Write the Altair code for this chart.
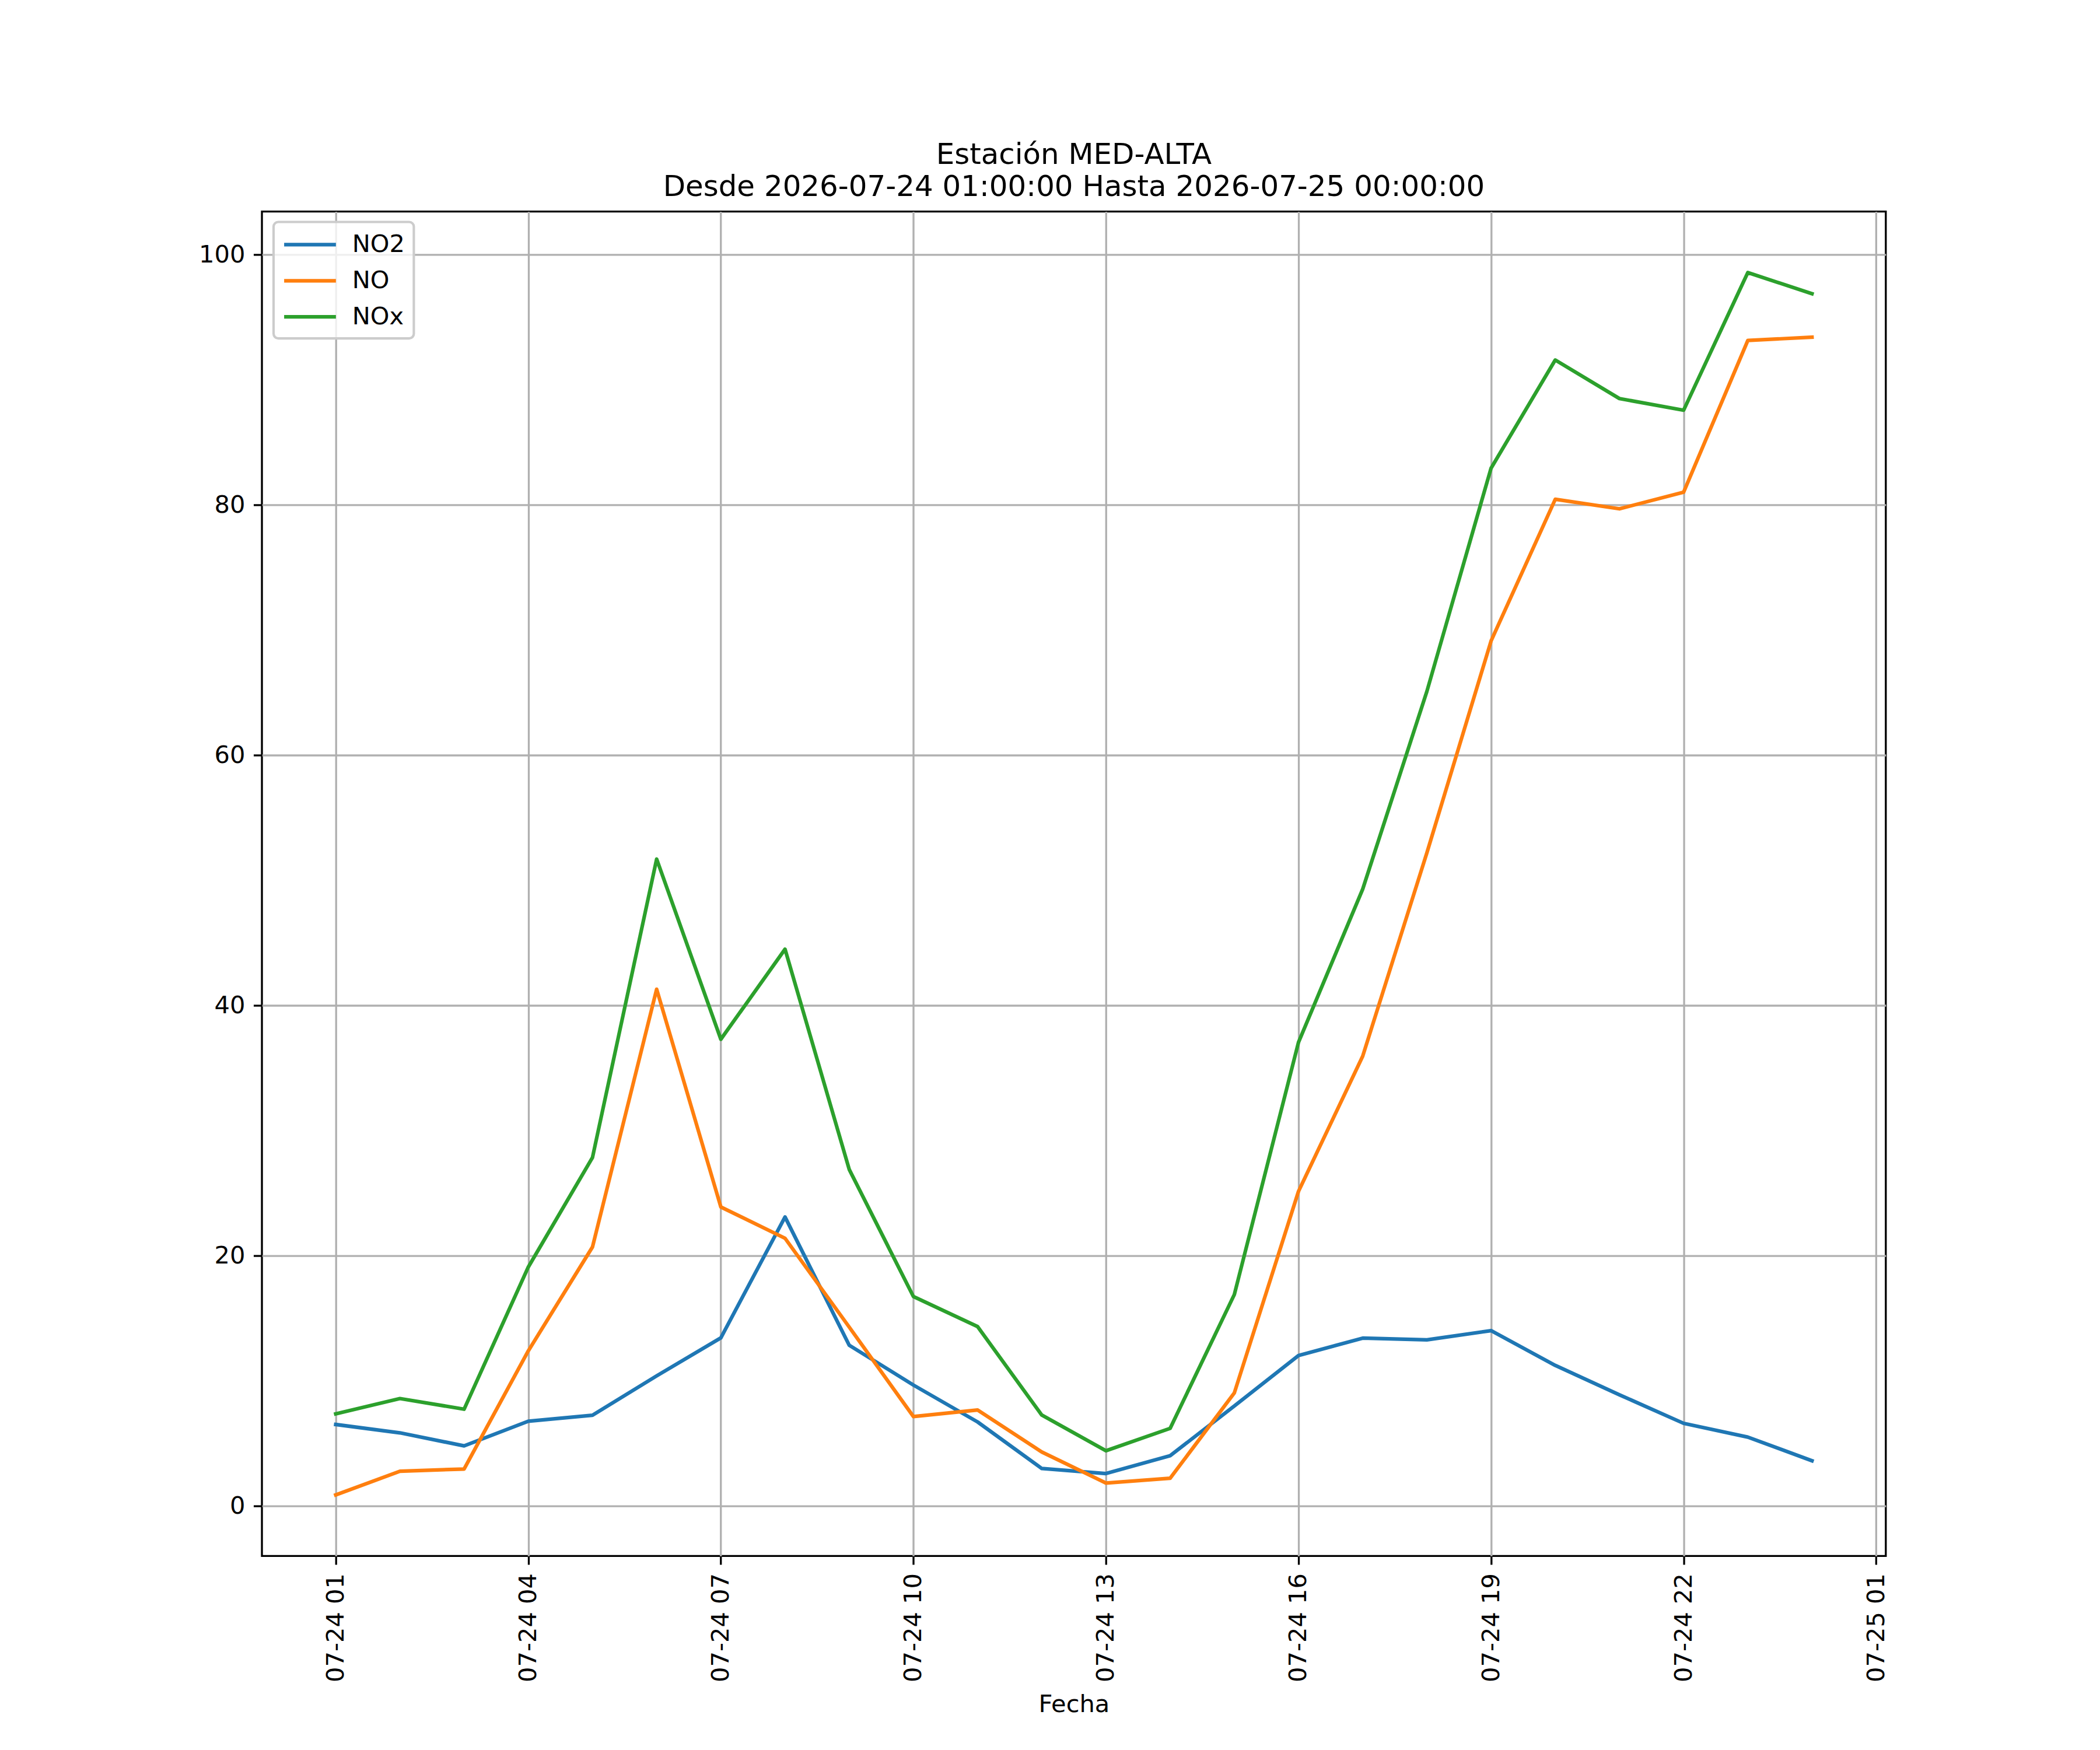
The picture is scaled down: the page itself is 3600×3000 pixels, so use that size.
import altair as alt
import pandas as pd

times = [
    "2026-07-24T01:00:00", "2026-07-24T02:00:00", "2026-07-24T03:00:00", "2026-07-24T04:00:00",
    "2026-07-24T05:00:00", "2026-07-24T06:00:00", "2026-07-24T07:00:00", "2026-07-24T08:00:00",
    "2026-07-24T09:00:00", "2026-07-24T10:00:00", "2026-07-24T11:00:00", "2026-07-24T12:00:00",
    "2026-07-24T13:00:00", "2026-07-24T14:00:00", "2026-07-24T15:00:00", "2026-07-24T16:00:00",
    "2026-07-24T17:00:00", "2026-07-24T18:00:00", "2026-07-24T19:00:00", "2026-07-24T20:00:00",
    "2026-07-24T21:00:00", "2026-07-24T22:00:00", "2026-07-24T23:00:00", "2026-07-25T00:00:00",
]

no2 = [6.52, 5.85, 4.81, 6.78, 7.26, 10.4, 13.44, 23.1, 12.85, 9.67, 6.72, 3.0,
       2.6, 4.02, 8.0, 12.03, 13.42, 13.28, 14.02, 11.24, 8.89, 6.61, 5.51, 3.62]
no = [0.89, 2.78, 2.96, 12.4, 20.7, 41.3, 23.9, 21.4, 14.3, 7.15, 7.68, 4.32,
      1.84, 2.22, 9.04, 25.15, 35.95, 52.2, 69.13, 80.45, 79.69, 81.02, 93.14, 93.41]
nox = [7.37, 8.59, 7.74, 19.1, 27.85, 51.7, 37.3, 44.5, 26.9, 16.74, 14.34, 7.27,
       4.42, 6.21, 16.9, 37.06, 49.3, 65.1, 82.94, 91.58, 88.5, 87.57, 98.57, 96.88]

series_names = ["NO2", "NO", "NOx"]
series_colors = ["#1f77b4", "#ff7f0e", "#2ca02c"]

tick_hours = [(24, 1), (24, 4), (24, 7), (24, 10), (24, 13), (24, 16), (24, 19), (24, 22), (25, 1)]
y_ticks = [0, 20, 40, 60, 80, 100]

title_lines = ["Estación MED-ALTA", "Desde 2026-07-24 01:00:00 Hasta 2026-07-25 00:00:00"]

df = pd.DataFrame({
    "Fecha": times * 3,
    "valor": no2 + no + nox,
    "serie": ["NO2"] * len(no2) + ["NO"] * len(no) + ["NOx"] * len(nox),
})

FONT = "DejaVu Sans"
FS = 41.67
LW = 3.33

x_domain = [
    alt.DateTime(year=2026, month=7, date=23, hours=23, minutes=51),
    alt.DateTime(year=2026, month=7, date=25, hours=1, minutes=9),
]
x_values = [alt.DateTime(year=2026, month=7, date=d, hours=h) for d, h in tick_hours]

chart = alt.Chart(df).mark_line(strokeWidth=6.25, strokeCap="square", strokeJoin="round").encode(
    x=alt.X(
        "Fecha:T",
        title="Fecha",
        scale=alt.Scale(domain=x_domain, nice=False),
        axis=alt.Axis(
            values=x_values,
            format="%m-%d %H",
            labelAngle=270,
            labelAlign="right",
            labelBaseline="middle",
            labelFlush=False,
            labelOverlap=False,
            labelLimit=1000,
            titlePadding=34.7,
            grid=True,
        ),
    ),
    y=alt.Y(
        "valor:Q",
        title=None,
        scale=alt.Scale(domain=[-3.99, 103.45], nice=False, zero=False),
        axis=alt.Axis(values=y_ticks, labelFlush=False, labelOverlap=False, grid=True),
    ),
    color=alt.Color(
        "serie:N",
        sort=series_names,
        scale=alt.Scale(domain=series_names, range=series_colors),
        legend=alt.Legend(
            title=None,
            orient="none",
            legendX=20,
            legendY=18,
            symbolType="M-1,0H3.27",
            symbolSize=FS * FS,
            symbolStrokeWidth=6.25,
            labelOffset=72,
            rowPadding=16,
            padding=15,
        ),
    ),
).properties(
    width=2790,
    height=2310,
    autosize=alt.AutoSizeParams(type="none"),
    padding={"left": 442, "top": 352, "right": 360, "bottom": 330},
    title=alt.TitleParams(
        text=title_lines,
        anchor="middle",
        offset=-23,
        baseline="alphabetic",
        lineHeight=55,
    ),
).configure(
    background="white",
).configure_view(
    stroke="black",
    strokeWidth=LW,
).configure_axis(
    labelFont=FONT,
    labelFontSize=FS,
    labelColor="black",
    titleFont=FONT,
    titleFontSize=FS,
    titleFontWeight="normal",
    titleColor="black",
    gridColor="#b0b0b0",
    gridWidth=LW,
    gridOpacity=1,
    tickColor="black",
    tickWidth=LW,
    tickSize=14.6,
    labelPadding=14.6,
    domain=False,
).configure_legend(
    labelFont=FONT,
    labelFontSize=FS,
    labelColor="black",
    strokeColor="#cccccc",
    strokeWidth=4.17,
    fillColor="rgba(255,255,255,0.8)",
    cornerRadius=8,
).configure_title(
    font=FONT,
    fontSize=50,
    fontWeight="normal",
    color="black",
)

chart.save("out.html", embed_options={"renderer": "svg", "actions": False})
